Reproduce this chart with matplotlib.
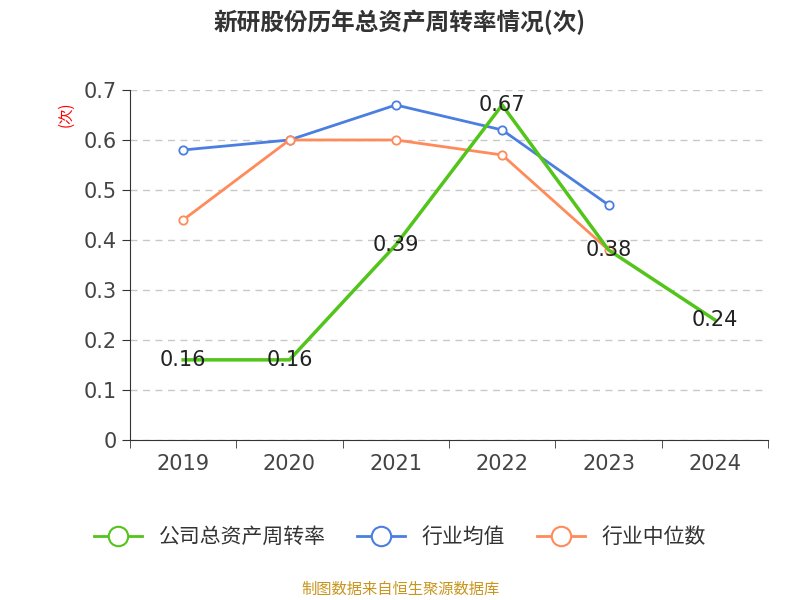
import matplotlib
matplotlib.use("Agg")
import matplotlib.pyplot as plt
from matplotlib.lines import Line2D
from matplotlib import font_manager

names = {f.name for f in font_manager.fontManager.ttflist}
cjk = [n for n in ["Noto Sans CJK SC", "Noto Sans CJK JP", "Noto Sans CJK TC", "Noto Sans CJK KR"] if n in names]
cjk += [n for n in sorted(names) if "CJK" in n and n not in cjk]
plt.rcParams["font.family"] = cjk + ["DejaVu Sans"]
CJK = cjk + ["DejaVu Sans"]

years = ["2019", "2020", "2021", "2022", "2023", "2024"]
company = [0.16, 0.16, 0.39, 0.67, 0.38, 0.24]
industry_avg = [0.58, 0.60, 0.67, 0.62, 0.47]
industry_med = [0.44, 0.60, 0.60, 0.57, 0.38]
yticks = [0, 0.1, 0.2, 0.3, 0.4, 0.5, 0.6, 0.7]

fig = plt.figure(figsize=(8, 6), dpi=100)
ax = fig.add_axes([0.1625, 0.267, 0.7975, 0.583])
x = list(range(len(years)))

ax.plot(x[:5], industry_avg, color="#4a7ee0", lw=2, marker="o", ms=6, mfc="white", mew=1.3, zorder=3)
ax.plot(x[:5], industry_med, color="#ff8a5a", lw=2, marker="o", ms=6, mfc="white", mew=1.3, zorder=3)
ax.plot(x, company, color="#52c41a", lw=2.5, zorder=4)
for xi, v in zip(x, company):
    ax.text(xi, v, f"{v:.2f}", ha="center", va="center", fontsize=15, color="#222222", zorder=5,
            family="DejaVu Sans")

ax.set_xlim(-0.5, 5.5)
ax.set_ylim(0, 0.7)
ax.set_yticks(yticks)
ax.set_yticklabels(["0" if t == 0 else f"{t:.1f}" for t in yticks], fontsize=15, color="#444444", family="DejaVu Sans")
ax.set_xticks(x)
ax.set_xticklabels(years, fontsize=15, color="#444444", family="DejaVu Sans")
ax.set_xticks([i - 0.5 for i in range(7)], minor=True)
ax.tick_params(axis="x", which="major", length=0, pad=10)
ax.tick_params(axis="x", which="minor", length=6, color="#333333")
ax.tick_params(axis="y", length=6, color="#333333")
ax.grid(axis="y", linestyle=(0, (5, 4)), color="#c8c8c8", lw=1)
for s in ["top", "right"]:
    ax.spines[s].set_visible(False)
ax.spines["left"].set_color("#333333")
ax.spines["bottom"].set_color("#333333")
ax.text(-0.1, 0.93, "(次)", transform=ax.transAxes, rotation=90, color="red", fontsize=11, ha="center", va="center", family=CJK)

fig.text(0.5, 0.962, "新研股份历年总资产周转率情况(次)", ha="center", va="center", fontsize=17, fontweight="bold", color="#333333", family=CJK)

handles = [
    Line2D([], [], color="#52c41a", lw=2, marker="o", ms=14, mfc="white", mew=1.5),
    Line2D([], [], color="#4a7ee0", lw=2, marker="o", ms=14, mfc="white", mew=1.5),
    Line2D([], [], color="#ff8a5a", lw=2, marker="o", ms=14, mfc="white", mew=1.5),
]
fig.legend(handles, ["公司总资产周转率", "行业均值", "行业中位数"], loc="center", bbox_to_anchor=(0.5, 0.105),
           ncol=3, frameon=False, prop={"family": CJK, "size": 15}, handlelength=2.3, columnspacing=1.5, labelcolor="#333333")
fig.text(0.5, 0.018, "制图数据来自恒生聚源数据库", ha="center", va="center", fontsize=11, color="#c8961e", family=CJK)

fig.savefig("out.png", dpi=100)
